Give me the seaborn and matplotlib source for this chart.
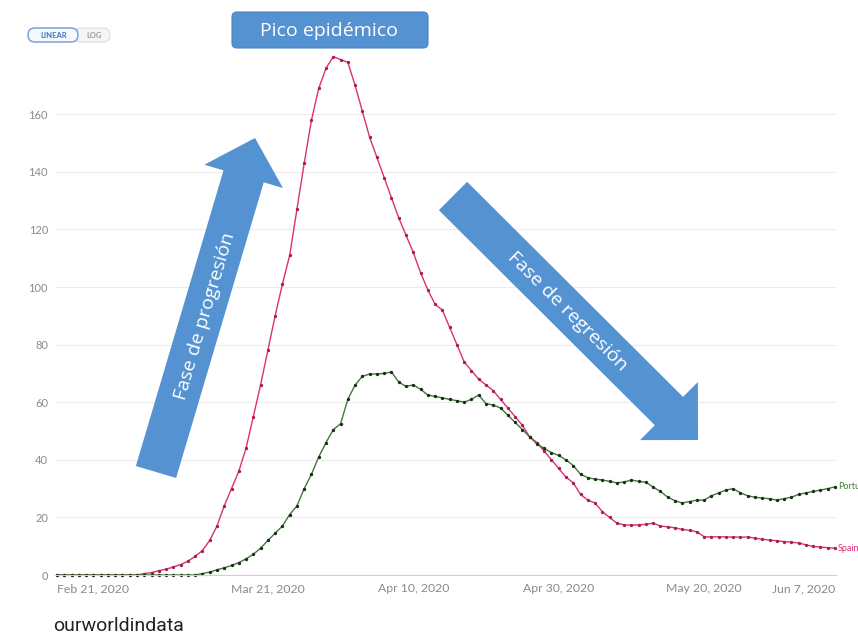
import numpy as np
import pandas as pd
import seaborn as sns
import matplotlib.pyplot as plt
from matplotlib.patches import Polygon, FancyBboxPatch
from matplotlib.transforms import IdentityTransform

# daily values (Feb 21 - Jun 7, 2020)
dates = pd.date_range("2020-02-21", "2020-06-07", freq="D")

spain = [0, 0, 0, 0, 0, 0, 0, 0, 0, 0, 0, 0,
         0.5, 0.8, 1.5, 2, 2.8, 3.6, 4.8, 6.5, 8.5, 12, 17, 24, 30, 36, 44, 55,
         66, 78, 90, 101, 111, 127, 143, 158, 169, 176, 180, 179, 178, 170,
         161, 152, 145, 138, 131, 124, 118, 112, 105, 99, 94, 92, 86, 80, 74,
         71, 68, 66, 64, 61, 58, 55, 52, 48, 46, 43, 40, 37, 34, 32, 28, 26,
         25, 22, 20, 18, 17.4, 17.3, 17.4, 17.6, 18, 17, 16.7, 16.4, 15.8,
         15.5, 15, 13.3, 13.2, 13.3, 13.2, 13.2, 13.1, 13.2, 12.8, 12.4, 12.1,
         11.9, 11.6, 11.4, 11.1, 10.5, 9.9, 9.7, 9.5, 9.3]

portugal = [0] * 20 + [
    0.5, 1, 1.8, 2.5, 3.3, 4.3, 5.6, 7.2, 9.3, 12, 14.5, 17, 21, 24, 30, 35,
    41, 46, 50.5, 52.5, 61, 66, 69, 69.8, 69.8, 70, 70.5, 67, 65.5, 66, 64.5,
    62.5, 62, 61.5, 61, 60.5, 60, 61, 62.5, 59.5, 59, 58, 55.5, 53, 50.5, 48,
    45.5, 44, 42.5, 41.5, 40, 38, 35, 33.8, 33.3, 33, 32.5, 32, 32.3, 33,
    32.5, 32.2, 30.5, 29, 27, 25.8, 25, 25.5, 26, 26, 27.5, 28.5, 29.5, 30,
    28.5, 27.5, 27, 26.7, 26.5, 26, 26.5, 27, 28, 28.5, 29, 29.5, 30, 30.6]

tick_dates = ["2020-02-21", "2020-03-21", "2020-04-10", "2020-04-30",
              "2020-05-20", "2020-06-07"]
tick_labels = ["Feb 21, 2020", "Mar 21, 2020", "Apr 10, 2020", "Apr 30, 2020",
               "May 20, 2020", "Jun 7, 2020"]
y_ticks = [0, 20, 40, 60, 80, 100, 120, 140, 160]

df = pd.DataFrame({
    "date": np.concatenate([dates, dates]),
    "value": spain + portugal,
    "country": ["Spain"] * len(dates) + ["Portugal"] * len(dates),
})

sns.set_style("white")
plt.rcParams["font.family"] = ["Lato", "DejaVu Sans"]

W, H = 858, 637
fig = plt.figure(figsize=(W / 100, H / 100), dpi=100)
ax = fig.add_axes([55 / W, 1 - 575 / H, (836 - 55) / W, (575 - 48) / H])

styles = {"Spain": ("#dc2f78", "#a3204f"), "Portugal": ("#3f7a37", "#1d2b1b")}
for name, (col, dark) in styles.items():
    sub = df[df["country"] == name]
    sns.lineplot(data=sub, x="date", y="value", ax=ax, color=col, lw=1.0,
                 marker="o", markersize=2.4, mfc=dark, mec=dark, mew=0,
                 clip_on=False, legend=False)
    # end-of-line labels, cut by the right edge as in the original screenshot
    ax.annotate(name, xy=(sub["date"].iloc[-1], sub["value"].iloc[-1]),
                xytext=(2, 0), textcoords="offset points", va="center",
                fontsize=6.5, color=col, annotation_clip=False)

ax.set_xlim(dates[0] - pd.Timedelta(hours=6.6), dates[-1] + pd.Timedelta(hours=3.3))
ax.set_ylim(0, 183)
ax.set_xlabel("")
ax.set_ylabel("")

ax.set_yticks(y_ticks)
ax.yaxis.grid(True, color="#ececec", lw=0.8)
ax.tick_params(axis="y", length=0, pad=5, labelsize=8, labelcolor="#8a8a8a")

ax.set_xticks(pd.to_datetime(tick_dates))
ax.set_xticklabels(tick_labels)
xl = ax.get_xticklabels()
xl[0].set_ha("left")
xl[-1].set_ha("right")
ax.tick_params(axis="x", length=3, color="#cccccc", pad=3, labelsize=8.8,
               labelcolor="#8a8a8a")

for s in ["left", "right", "top"]:
    ax.spines[s].set_visible(False)
ax.spines["bottom"].set_color("#cfcfcf")


def px_box(x0, y0, x1, y1, r, **kw):
    # box in image pixels (top-left origin)
    return FancyBboxPatch((x0, H - y1), x1 - x0, y1 - y0,
                          boxstyle=f"round,pad=0,rounding_size={r}",
                          transform=IdentityTransform(), **kw)


# LINEAR / LOG toggle
fig.add_artist(px_box(74, 28, 110, 42, 7, fc="#f6f6f6", ec="#e0e0e0", lw=0.9))
fig.add_artist(px_box(28, 28, 78, 42, 7, fc="#f5f9fe", ec="#7aa3d8", lw=1.1))
fig.text(54 / W, 1 - 35.5 / H, "LINEAR", ha="center", va="center", fontsize=5.5,
         color="#3f73b8", weight="bold")
fig.text(94 / W, 1 - 35.5 / H, "LOG", ha="center", va="center", fontsize=5.5,
         color="#9a9a9a", weight="bold")

blue = "#5592d2"


def arrow_px(tail, tip, width, head_w, head_len):
    t = np.array(tail, float)
    p = np.array(tip, float)
    u = (p - t) / np.linalg.norm(p - t)
    n = np.array([-u[1], u[0]])
    b = p - u * head_len
    pts = [t + n * width / 2, b + n * width / 2, b + n * head_w / 2, p,
           b - n * head_w / 2, b - n * width / 2, t - n * width / 2]
    return [(x / W, 1 - y / H) for x, y in pts]


fig.add_artist(Polygon(arrow_px((156, 472), (255, 138), 42, 82, 40),
                       closed=True, transform=fig.transFigure, fc=blue, ec="none"))
fig.add_artist(Polygon(arrow_px((453, 196), (698, 440), 40, 82, 41),
                       closed=True, transform=fig.transFigure, fc=blue, ec="none"))

fig.text(205 / W, 1 - 316 / H, "Fase de progresión", rotation=73.5,
         rotation_mode="anchor", ha="center", va="center", fontsize=14,
         color="white", family=["Open Sans", "DejaVu Sans"])
fig.text(567 / W, 1 - 311 / H, "Fase de regresión", rotation=-44.8,
         rotation_mode="anchor", ha="center", va="center", fontsize=14,
         color="white", family=["Open Sans", "DejaVu Sans"])

# peak label box
fig.add_artist(px_box(232, 12, 428, 48, 5, fc=blue, ec="#4a85c4", lw=0.8))
fig.text(329 / W, 1 - 31 / H, "Pico epidémico", ha="center", va="center",
         fontsize=14, color="white", family=["Open Sans", "DejaVu Sans"])

fig.text(53 / W, 1 - 631 / H, "ourworldindata", ha="left", va="baseline",
         fontsize=14, color="#222222", family=["Roboto", "DejaVu Sans"])

fig.savefig("out.png", dpi=100)
